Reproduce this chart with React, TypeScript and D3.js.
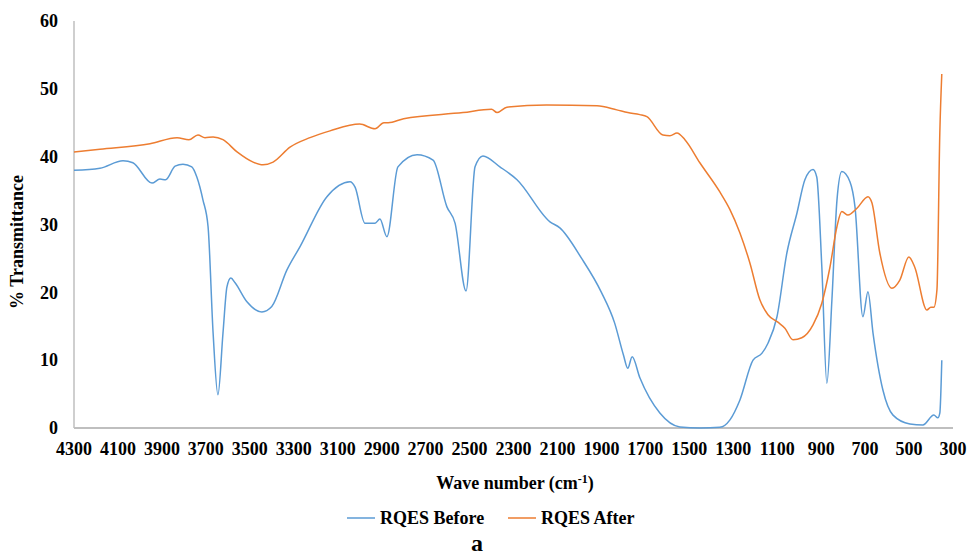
import React, { Component } from 'react'
import * as d3 from 'd3';

// wave numbers (cm-1) and % transmittance
const beforeWave = [4300, 4182, 4077, 4032, 3945, 3909, 3883, 3840, 3804, 3764, 3741, 3713, 3690, 3667, 3645, 3622, 3604, 3586, 3567, 3513, 3445, 3400, 3331, 3272, 3149, 3044, 3021, 2976, 2930, 2908, 2876, 2826, 2739, 2666, 2603, 2566, 2516, 2475, 2439, 2362, 2284, 2134, 2089, 1990, 1900, 1840, 1800, 1780, 1760, 1725, 1634, 1543, 1450, 1361, 1315, 1270, 1210, 1170, 1142, 1101, 1056, 1010, 974, 937, 920, 897, 874, 851, 828, 806, 769, 746, 710, 687, 664, 619, 573, 496, 437, 387, 369, 360, 351];
const beforeT = [38.0, 38.3, 39.4, 39.1, 36.1, 36.7, 36.6, 38.6, 38.9, 38.5, 37.0, 33.6, 29.7, 14.0, 4.9, 14.0, 20.8, 22.1, 21.4, 18.6, 17.1, 17.9, 23.3, 26.7, 34.1, 36.3, 35.5, 30.2, 30.2, 30.8, 28.2, 38.5, 40.3, 39.5, 32.6, 30.2, 20.2, 38.5, 40.1, 38.5, 36.6, 30.4, 29.5, 25.0, 20.0, 15.5, 10.8, 8.8, 10.5, 7.4, 2.2, 0.15, 0.0, 0.1, 1.2, 4.1, 10.0, 11.0, 12.5, 16.4, 25.8, 31.7, 36.6, 38.1, 37.0, 23.8, 6.6, 18.9, 33.6, 37.8, 36.3, 32.6, 16.4, 20.1, 14.0, 5.6, 1.9, 0.6, 0.44, 1.9, 1.5, 2.2, 10.0];

const afterWave = [4300, 4182, 3954, 3831, 3777, 3736, 3704, 3667, 3622, 3558, 3485, 3440, 3394, 3317, 3226, 3135, 3000, 2930, 2890, 2870, 2800, 2530, 2400, 2375, 2330, 2150, 1920, 1830, 1780, 1725, 1693, 1620, 1588, 1556, 1520, 1452, 1361, 1315, 1270, 1224, 1179, 1142, 1097, 1065, 1028, 988, 937, 897, 860, 828, 806, 778, 737, 687, 669, 633, 578, 542, 501, 474, 419, 401, 387, 373, 360, 351];
const afterT = [40.7, 41.1, 41.9, 42.8, 42.5, 43.2, 42.8, 42.9, 42.5, 40.7, 39.2, 38.8, 39.2, 41.4, 42.8, 43.8, 44.8, 44.1, 45.0, 45.0, 45.6, 46.5, 47.0, 46.5, 47.3, 47.6, 47.5, 46.9, 46.5, 46.2, 45.9, 43.2, 43.1, 43.5, 42.5, 39.1, 34.8, 32.2, 28.8, 24.3, 18.9, 16.7, 15.6, 14.7, 13.0, 13.3, 15.2, 18.4, 23.7, 29.7, 31.9, 31.4, 32.4, 34.1, 33.2, 25.8, 20.6, 21.8, 25.2, 23.7, 17.4, 17.8, 17.8, 20.4, 43.5, 52.2];

const xTicks = [4300, 4100, 3900, 3700, 3500, 3300, 3100, 2900, 2700, 2500, 2300, 2100, 1900, 1700, 1500, 1300, 1100, 900, 700, 500, 300];
const yTicks = [0, 10, 20, 30, 40, 50, 60];

const seriesNames = ['RQES Before', 'RQES After'];
const seriesColors = ['#5B9BD5', '#ED7D31'];

export default class App extends Component {
  svg: SVGSVGElement | null = null;

  componentDidMount() {
    this.drawChart();
  }

  drawChart = () => {
    const width = 968;
    const height = 557;
    const font = '"Liberation Serif", "Times New Roman", serif';

    const x = d3.scaleLinear().domain([4300, 300]).range([74, 953]);
    const y = d3.scaleLinear().domain([0, 60]).range([428, 21]);

    const svg = d3.select(this.svg)
      .attr('width', width)
      .attr('height', height);
    svg.selectAll('*').remove();

    svg.append('rect').attr('width', width).attr('height', height).attr('fill', '#fff');

    // axes lines
    svg.append('line')
      .attr('x1', x(4300)).attr('x2', x(4300))
      .attr('y1', y(60)).attr('y2', y(0))
      .attr('stroke', '#BFBFBF').attr('stroke-width', 1.5);
    svg.append('line')
      .attr('x1', x(4300)).attr('x2', x(300))
      .attr('y1', y(0)).attr('y2', y(0))
      .attr('stroke', '#BFBFBF').attr('stroke-width', 2);

    // y tick labels
    svg.append('g')
      .selectAll('text')
      .data(yTicks)
      .join('text')
      .attr('x', 58)
      .attr('y', (d) => y(d))
      .attr('dy', '0.35em')
      .attr('text-anchor', 'end')
      .attr('font-family', font)
      .attr('font-weight', 'bold')
      .attr('font-size', 18)
      .attr('fill', '#000')
      .text((d) => d);

    // x tick labels
    svg.append('g')
      .selectAll('text')
      .data(xTicks)
      .join('text')
      .attr('x', (d) => x(d))
      .attr('y', 455)
      .attr('text-anchor', 'middle')
      .attr('font-family', font)
      .attr('font-weight', 'bold')
      .attr('font-size', 18)
      .attr('fill', '#000')
      .text((d) => d);

    // lines
    const line = d3.line<[number, number]>()
      .x((d) => x(d[0]))
      .y((d) => y(d[1]))
      .curve(d3.curveMonotoneX);

    const series = [
      beforeWave.map((w, i) => [w, beforeT[i]] as [number, number]),
      afterWave.map((w, i) => [w, afterT[i]] as [number, number]),
    ];

    svg.append('g')
      .selectAll('path')
      .data(series)
      .join('path')
      .attr('d', (d) => line(d))
      .attr('fill', 'none')
      .attr('stroke', (d, i) => seriesColors[i])
      .attr('stroke-width', 1.5)
      .attr('stroke-linejoin', 'round');

    // axis titles
    svg.append('text')
      .attr('transform', 'translate(23,242) rotate(-90)')
      .attr('text-anchor', 'middle')
      .attr('font-family', font)
      .attr('font-weight', 'bold')
      .attr('font-size', 18)
      .text('% Transmittance');

    const xt = svg.append('text')
      .attr('x', 515)
      .attr('y', 489)
      .attr('text-anchor', 'middle')
      .attr('font-family', font)
      .attr('font-weight', 'bold')
      .attr('font-size', 18);
    xt.append('tspan').text('Wave number (cm');
    xt.append('tspan').attr('dy', -6).attr('font-size', 12).text('-1');
    xt.append('tspan').attr('dy', 6).text(')');

    // legend
    const legendX = [347, 508];
    const legend = svg.append('g')
      .selectAll('g')
      .data(seriesNames)
      .join('g')
      .attr('transform', (d, i) => 'translate(' + legendX[i] + ',518)');
    legend.append('line')
      .attr('x1', 0).attr('x2', 28)
      .attr('stroke', (d, i) => seriesColors[i])
      .attr('stroke-width', 1.5);
    legend.append('text')
      .attr('x', 33)
      .attr('dy', '0.35em')
      .attr('font-family', font)
      .attr('font-weight', 'bold')
      .attr('font-size', 18)
      .text((d) => d);

    svg.append('text')
      .attr('x', 477)
      .attr('y', 551)
      .attr('text-anchor', 'middle')
      .attr('font-family', font)
      .attr('font-weight', 'bold')
      .attr('font-size', 24)
      .text('a');
  }

  render() {
    return (
      <svg ref={(svg) => { this.svg = svg; }} style={{ position: 'absolute', left: 0, top: 0 }} />
    );
  }
}
